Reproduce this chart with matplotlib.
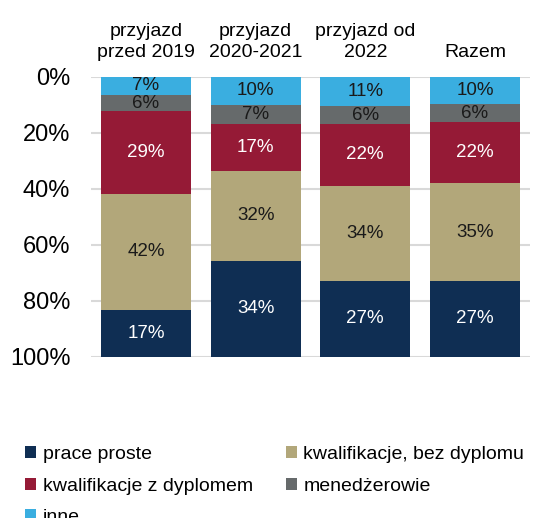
import matplotlib
matplotlib.use("Agg")
import matplotlib.pyplot as plt
import numpy as np

categories = ["przyjazd\nprzed 2019", "przyjazd\n2020-2021", "przyjazd od\n2022", "Razem"]
# stacked from top (0%) to bottom (100%)
inne = [6.6, 10.1, 10.6, 9.9]
menedzerowie = [5.8, 6.7, 6.2, 6.2]
kwal_z_dyplomem = [29.3, 16.9, 22.2, 21.9]
kwal_bez_dyplomu = [41.6, 31.9, 33.9, 34.9]
prace_proste = [16.7, 34.4, 27.1, 27.1]

series = [
    ("inne", inne, "#3AAEE0", "#1a1a1a"),
    ("menedżerowie", menedzerowie, "#666A6B", "#1a1a1a"),
    ("kwalifikacje z dyplomem", kwal_z_dyplomem, "#951A36", "white"),
    ("kwalifikacje, bez dyplomu", kwal_bez_dyplomu, "#B2A77A", "#1a1a1a"),
    ("prace proste", prace_proste, "#0F2E53", "white"),
]

plt.rcParams['font.family'] = ['Liberation Sans', 'DejaVu Sans']

fig = plt.figure(figsize=(5.49, 5.18), dpi=100)
ax = fig.add_axes([0.166, 0.311, 0.799, 0.541])

x = np.arange(len(categories))
bottom = np.zeros(len(categories))
handles = {}
for name, vals, color, tcolor in series:
    vals = np.array(vals)
    b = ax.bar(x, vals, bottom=bottom, width=0.82, color=color, zorder=3, label=name)
    handles[name] = b
    for xi, v, bt in zip(x, vals, bottom):
        ax.text(xi, bt + v / 2, f"{round(v):.0f}%", ha="center", va="center",
                color=tcolor, fontsize=13.5, zorder=4)
    bottom += vals

ax.set_xlim(-0.5, 3.5)
ax.set_ylim(100, 0)
ax.set_yticks([0, 20, 40, 60, 80, 100])
ax.set_yticklabels([f"{v}%" for v in [0, 20, 40, 60, 80, 100]], fontsize=17)
ax.tick_params(axis="y", length=0, pad=15)
ax.yaxis.grid(True, color="#D9D9D9", linewidth=1.5, zorder=0)
ax.set_axisbelow(True)
for s in ax.spines.values():
    s.set_visible(False)

ax.xaxis.tick_top()
ax.set_xticks(x)
ax.set_xticklabels(categories, fontsize=14, linespacing=1.35)
ax.tick_params(axis="x", length=0, pad=11)

order = ["prace proste", "kwalifikacje z dyplomem", "inne",
         "kwalifikacje, bez dyplomu", "menedżerowie"]
leg = fig.legend([handles[n] for n in order], order, ncol=2,
                 loc="upper left", bbox_to_anchor=(0.046, 0.139),
                 frameon=False, fontsize=14, handlelength=0.55, handleheight=0.55,
                 handletextpad=0.35, columnspacing=1.7, labelspacing=0.75,
                 borderpad=0, borderaxespad=0)

fig.savefig("out.png", dpi=100)
